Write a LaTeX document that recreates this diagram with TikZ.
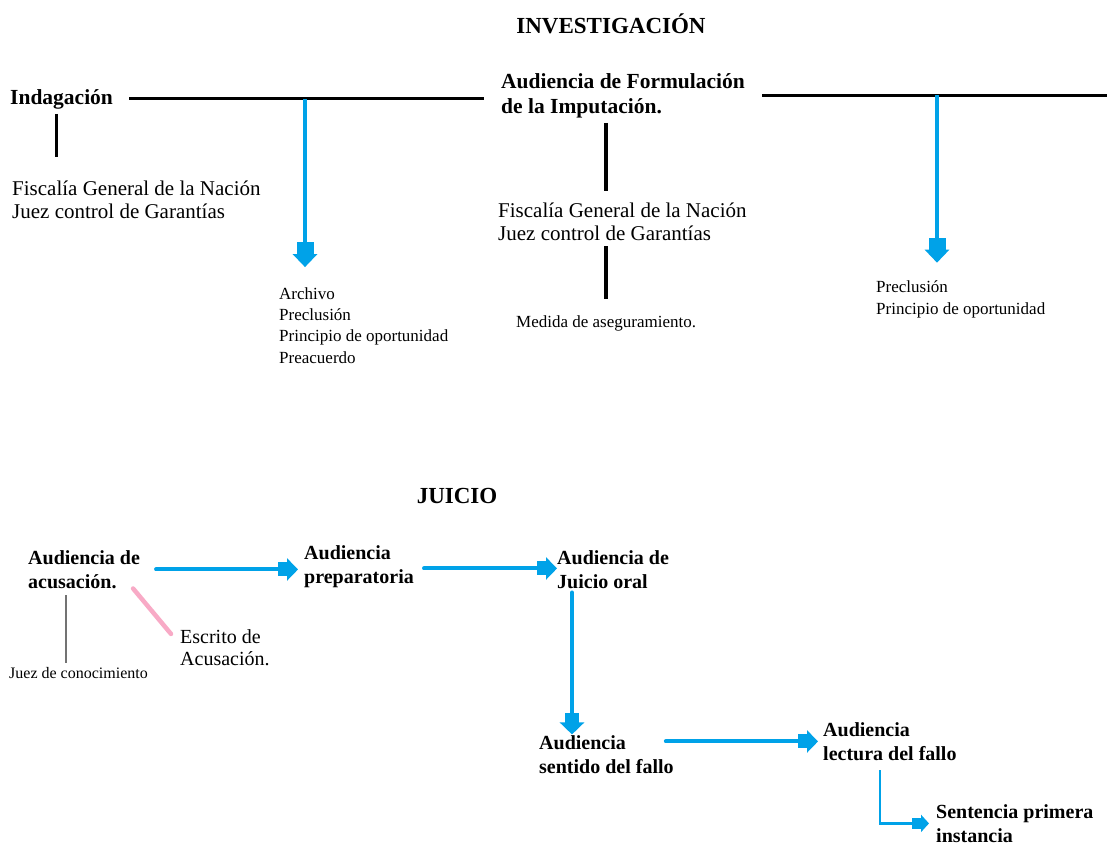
\documentclass[tikz,border=0pt]{standalone}
\usepackage{fontspec}
\setmainfont{Liberation Serif}
\usetikzlibrary{arrows.meta}
\definecolor{flowblue}{RGB}{0,162,232}
\definecolor{rosa}{RGB}{248,170,198}
\begin{document}
\begin{tikzpicture}[x=1pt,y=-1pt,
  every node/.style={inner sep=0pt, anchor=base west, align=left},
  title/.style={font=\fontsize{23}{28}\selectfont\bfseries, anchor=base},
  head/.style={font=\fontsize{21.5}{25}\selectfont\bfseries},
  body/.style={font=\fontsize{21}{23}\selectfont},
  small/.style={font=\fontsize{17}{21.3}\selectfont},
  stage/.style={font=\fontsize{20}{23.5}\selectfont\bfseries},
  note/.style={font=\fontsize{20}{22}\selectfont},
  tiny/.style={font=\fontsize{16}{19}\selectfont},
  bar/.style={draw=black, line width=3pt},
  stem/.style={draw=black, line width=3.5pt},
  greystem/.style={draw=black!55, line width=1.6pt},
  pinkstem/.style={draw=rosa, line width=4.5pt},
  flow/.style={draw=flowblue, line width=3.2pt,
    -{Rectangle[length=13pt,width=17pt,sep=-1pt]Triangle[length=13pt,width=24pt]}},
  stepflow/.style={draw=flowblue, line width=4pt,
    -{Rectangle[length=10pt,width=14pt,sep=-1pt]Triangle[length=11pt,width=22pt]}},
  downflow/.style={draw=flowblue, line width=4pt,
    -{Rectangle[length=10pt,width=14pt,sep=-1pt]Triangle[length=12pt,width=24pt]}},
  thinflow/.style={draw=flowblue, line width=2.2pt,
    -{Rectangle[length=10pt,width=11pt,sep=-1pt]Triangle[length=8pt,width=17pt]}},
]
\useasboundingbox (0,0) rectangle (1107,846);

% ---------- Investigación ----------
% (multi-line nodes are placed by the baseline of their last line)
\node[title] (inv) at (611,33) {INVESTIGACIÓN};
\node[head] (indag) at (10,104) {Indagación};
\node[body] (fisc1) at (12,218) {Fiscalía General de la Nación\\Juez control de Garantías};
\node[head] (formul) at (501,113) {Audiencia de Formulación\\de la Imputación.};
\node[body] (fisc2) at (498,240) {Fiscalía General de la Nación\\Juez control de Garantías};
\node[small] (medida) at (516,327) {Medida de aseguramiento.};
\node[small] (salidas1) at (279,363) {Archivo\\Preclusión\\Principio de oportunidad\\Preacuerdo};
\node[small] (salidas2) at (876,314) {Preclusión\\Principio de oportunidad};

\coordinate (rend) at (1107,95);
\coordinate (j1) at (305,99);
\coordinate (j2) at (937,95);

\draw[bar, shorten <=16pt, shorten >=17pt] (indag.east) -- (formul.west |- indag.east);
\draw[bar, shorten <=17pt] (formul.east |- rend) -- (rend);

\draw[stem, shorten <=5pt, shorten >=23pt] ([xshift=-5pt]indag.south) -- ([xshift=-5pt]indag.south |- fisc1.north);
\draw[stem, shorten <=5pt, shorten >=11pt] (formul.south -| medida.north) -- (fisc2.north -| medida.north);
\draw[stem, shorten <=6pt, shorten >=16pt] (fisc2.south -| medida.north) -- (medida.north);

\draw[flow, shorten >=20pt] (j1) -- (j1 |- salidas1.north);
\draw[flow, shorten >=18pt] (j2) -- (j2 |- salidas2.north);

% ---------- Juicio ----------
\node[title] (juicio) at (457,503) {JUICIO};
\node[stage] (acus) at (28,588) {Audiencia de\\acusación.};
\node[stage] (prep) at (304,583) {Audiencia\\preparatoria};
\node[stage] (oral) at (557,588) {Audiencia de\\Juicio oral};
\node[stage] (sentido) at (539,773) {Audiencia\\sentido del fallo};
\node[stage] (lectura) at (823,760) {Audiencia\\lectura del fallo};
\node[stage] (sentencia) at (936,842) {Sentencia primera\\instancia};
\node[note] (escrito) at (180,665) {Escrito de\\Acusación.};
\node[tiny] (juez) at (9,678) {Juez de conocimiento};

\draw[stepflow, line cap=round, shorten <=16pt, shorten >=6pt] (acus.east) -- (prep.west |- acus.east);
\draw[stepflow, line cap=round, shorten <=10pt, shorten >=0pt] ([yshift=-2pt]prep.east) -- ([yshift=-2pt]oral.west |- prep.east);
\draw[downflow, line cap=round, shorten <=4pt, shorten >=1pt] ([xshift=15pt]oral.south west) -- ([xshift=15pt]oral.south west |- sentido.north);
\draw[stepflow, line cap=round, shorten >=5pt] ([xshift=-8pt]sentido.east |- lectura.west) -- (lectura.west);
\draw[thinflow, shorten >=7pt] ([xshift=57pt,yshift=-10pt]lectura.south west) |- (sentencia.west);

\draw[greystem, shorten <=7pt, shorten >=4pt] ([xshift=38pt]acus.south west) -- ([xshift=38pt]acus.south west |- juez.north);
\draw[pinkstem, line cap=round] ([xshift=-7pt]acus.south east) -- ([xshift=-9pt,yshift=-5pt]escrito.north west);
\end{tikzpicture}
\end{document}
